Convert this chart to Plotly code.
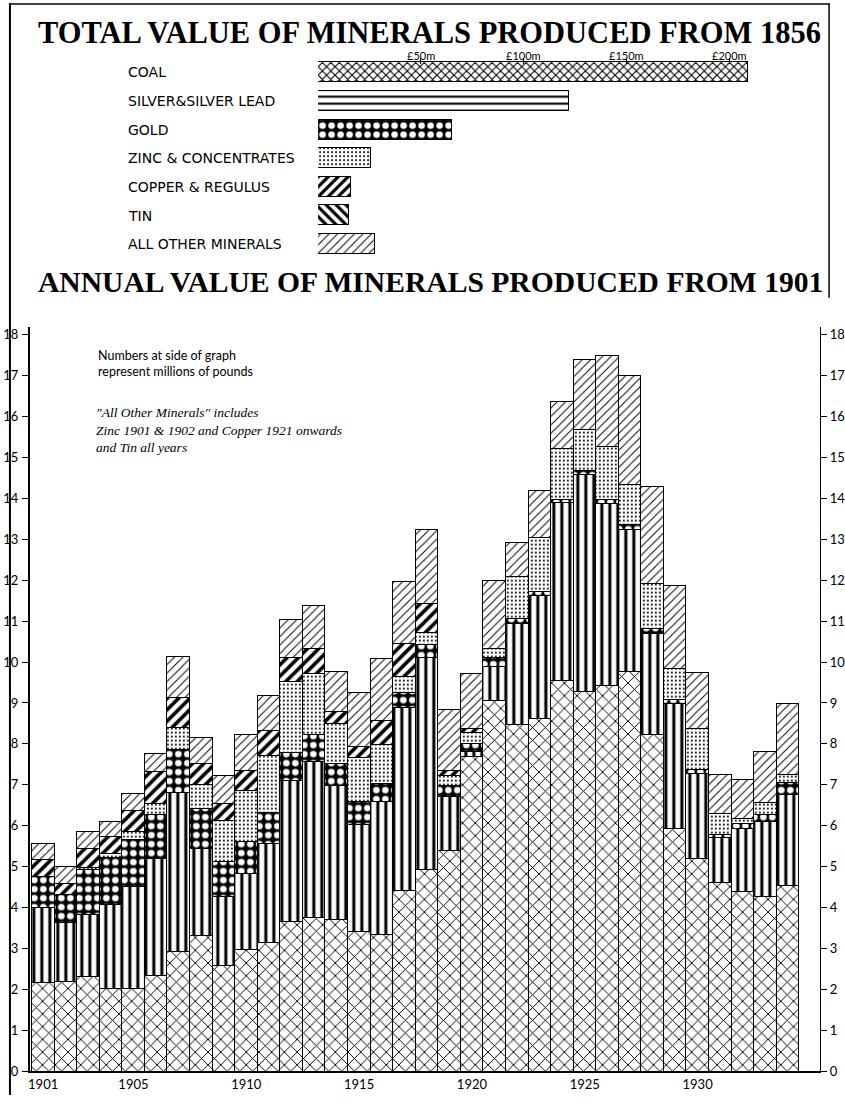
import plotly.graph_objects as go

W, H = 845, 1103

# ---------------- data ----------------
years = list(range(1901, 1935))
coal = [2.17, 2.20, 2.31, 2.01, 2.01, 2.33, 2.93, 3.32, 2.59, 2.98, 3.14, 3.65, 3.75, 3.71, 3.40, 3.35, 4.42,
        4.92, 5.38, 7.70, 9.05, 8.48, 8.61, 9.55, 9.27, 9.43, 9.77, 8.23, 5.94, 5.19, 4.60, 4.38, 4.26, 4.54]
silver = [1.84, 1.43, 1.52, 2.05, 2.49, 2.87, 3.89, 2.12, 1.67, 1.86, 2.43, 3.45, 3.82, 3.27, 2.63, 3.23, 4.46,
          5.18, 1.32, 0.10, 0.84, 2.47, 3.02, 4.35, 5.32, 4.45, 3.48, 2.47, 3.04, 2.09, 1.10, 1.56, 1.84, 2.21]
gold = [0.75, 0.69, 1.09, 1.16, 1.15, 1.08, 1.03, 0.97, 0.86, 0.77, 0.76, 0.69, 0.65, 0.53, 0.55, 0.46, 0.37,
        0.32, 0.28, 0.21, 0.21, 0.12, 0.10, 0.08, 0.08, 0.08, 0.10, 0.11, 0.10, 0.09, 0.08, 0.10, 0.16, 0.30]
zinc = [0.00, 0.00, 0.05, 0.10, 0.20, 0.26, 0.55, 0.59, 1.01, 1.25, 1.38, 1.74, 1.51, 0.99, 1.09, 0.94, 0.40,
        0.31, 0.24, 0.27, 0.24, 1.01, 1.32, 1.25, 1.01, 1.31, 0.99, 1.12, 0.77, 1.00, 0.52, 0.14, 0.30, 0.19]
copper = [0.40, 0.27, 0.47, 0.41, 0.52, 0.79, 0.73, 0.51, 0.42, 0.49, 0.61, 0.58, 0.61, 0.29, 0.26, 0.58, 0.81,
          0.70, 0.13, 0.10, 0, 0, 0, 0, 0, 0, 0, 0, 0, 0, 0, 0, 0, 0]
other = [0.41, 0.41, 0.41, 0.36, 0.41, 0.44, 1.01, 0.65, 0.67, 0.87, 0.87, 0.92, 1.05, 0.97, 1.32, 1.52, 1.51,
         1.82, 1.48, 1.34, 1.66, 0.83, 1.13, 1.14, 1.72, 2.21, 2.67, 2.37, 2.03, 1.38, 0.94, 0.95, 1.24, 1.74]

total_labels = ["COAL", "SILVER&SILVER LEAD", "GOLD", "ZINC & CONCENTRATES", "COPPER & REGULUS", "TIN",
                "ALL OTHER MINERALS"]
total_values = [209, 122, 65, 26, 16, 15, 27.5]

year_ticks = [1901, 1905, 1910, 1915, 1920, 1925, 1930]
value_ticks = list(range(0, 19))
total_ticks = [50, 100, 150, 200]
total_ticktext = ["£50m", "£100m", "£150m", "£200m"]

# ---------------- styles ----------------
styles = {
    "coal": dict(shape="x", size=9, solidity=0.2, fg="black", bg="white"),
    "silver": dict(shape="|", size=8, solidity=0.38, fg="black", bg="white"),
    "gold": dict(shape=".", size=9, solidity=0.42, fg="white", bg="black"),
    "zinc": dict(shape=".", size=4, solidity=0.22, fg="black", bg="white"),
    "copper": dict(shape="/", size=8, solidity=0.45, fg="black", bg="white"),
    "tin": dict(shape="\\", size=7, solidity=0.45, fg="black", bg="white"),
    "other": dict(shape="/", size=6, solidity=0.16, fg="black", bg="white"),
}


def pat(k, **over):
    s = dict(styles[k])
    s.update(over)
    return dict(shape=s["shape"], size=s["size"], solidity=s["solidity"],
                fgcolor=s["fg"], bgcolor=s["bg"], fillmode="replace")


fig = go.Figure()

series = [("coal", coal), ("silver", silver), ("gold", gold), ("zinc", zinc), ("copper", copper),
          ("other", other)]
for key, vals in series:
    fig.add_trace(go.Bar(
        x=years, y=vals, width=1, name=key, xaxis="x", yaxis="y",
        marker=dict(color=styles[key]["bg"], pattern=pat(key),
                    line=dict(color="black", width=1)),
        showlegend=False, hoverinfo="x+y"))

# invisible trace for right axis
fig.add_trace(go.Scatter(x=[years[0]], y=[0], xaxis="x", yaxis="y3", mode="markers",
                         marker=dict(opacity=0), showlegend=False, hoverinfo="skip"))

# top horizontal bars
top_keys = ["coal", "silver", "gold", "zinc", "copper", "tin", "other"]
top_pats = [pat("coal", size=6, solidity=0.34), pat("silver", shape="-", size=7, solidity=0.3),
            pat("gold", size=9, solidity=0.42), pat("zinc", size=4), pat("copper", size=7),
            pat("tin"), pat("other")]
for i, (k, v) in enumerate(zip(top_keys, total_values)):
    fig.add_trace(go.Bar(
        x=[v], y=[i], orientation="h", width=0.7, xaxis="x2", yaxis="y2",
        marker=dict(color=top_pats[i]["bgcolor"], pattern=top_pats[i],
                    line=dict(color="black", width=1.2)),
        showlegend=False, hoverinfo="x"))

px = lambda x: x / W
py = lambda y: (H - y) / H

tickfont = dict(family="Lato", size=13, color="black")
fig.update_layout(
    width=W, height=H, autosize=False,
    margin=dict(l=0, r=0, t=0, b=0),
    paper_bgcolor="white", plot_bgcolor="rgba(0,0,0,0)",
    barmode="stack", bargap=0,
    xaxis=dict(domain=[px(28), px(823)], range=[1900.41, 1935.43], tickvals=year_ticks,
               ticktext=[str(t) for t in year_ticks], ticks="", showgrid=False, zeroline=False,
               showline=True, linecolor="black", linewidth=1.5, tickfont=tickfont, anchor="y"),
    yaxis=dict(domain=[py(1079), py(329)], range=[0, 18.2], tickvals=value_ticks, ticks="outside",
               ticklen=6, tickcolor="black", showgrid=False, zeroline=False, showline=True,
               linecolor="black", linewidth=2, tickfont=tickfont, anchor="x", ticklabelstandoff=1),
    yaxis3=dict(overlaying="y", side="right", range=[0, 18.2], tickvals=value_ticks, ticks="outside",
                ticklen=6, tickcolor="black", showgrid=False, zeroline=False, showline=True,
                linecolor="black", linewidth=1, tickfont=tickfont, anchor="x"),
    xaxis2=dict(domain=[px(318), px(835)], range=[0, 250], tickvals=total_ticks,
                side="top", ticks="inside", ticklen=6, tickcolor="black", showgrid=False, zeroline=False,
                showline=False, showticklabels=False, anchor="y2"),
    yaxis2=dict(domain=[py(260.4), py(58.6)], range=[6.5, -0.5], visible=False, anchor="x2"),
)

annotations = [
    dict(text="<b>TOTAL VALUE OF MINERALS PRODUCED FROM 1856</b>", x=px(430), y=py(33), xref="paper",
         yref="paper", showarrow=False, font=dict(family="Liberation Serif", size=30.5, color="black"),
         xanchor="center", yanchor="middle"),
    dict(text="<b>ANNUAL VALUE OF MINERALS PRODUCED FROM 1901</b>", x=px(431), y=py(284), xref="paper",
         yref="paper", showarrow=False, font=dict(family="Liberation Serif", size=29.6, color="black"),
         xanchor="center", yanchor="middle"),
    dict(text="Numbers at side of graph<br>represent millions of pounds", x=px(95), y=py(366),
         xref="paper", yref="paper", showarrow=False, align="left", xanchor="left", yanchor="middle",
         font=dict(family="Lato", size=12.5, color="black")),
    dict(text="<i>\"All Other Minerals\" includes<br>Zinc 1901 &amp; 1902 and Copper 1921 onwards<br>"
              "and Tin all years</i>", x=px(93), y=py(433),
         xref="paper", yref="paper", showarrow=False, align="left", xanchor="left", yanchor="middle",
         font=dict(family="Liberation Serif", size=13.5, color="black")),
]
for t, lab in zip(total_ticks, total_ticktext):
    annotations.append(dict(text=lab, x=t, y=py(56), xref="x2", yref="paper", showarrow=False,
                            xanchor="center", yanchor="middle",
                            font=dict(family="Lato", size=11, color="black")))
for i, lab in enumerate(total_labels):
    annotations.append(dict(text=lab, x=px(125), y=i, xref="paper", yref="y2", showarrow=False,
                            xanchor="left", yanchor="middle",
                            font=dict(family="DejaVu Sans", size=14, color="black")))
fig.update_layout(annotations=annotations)

shapes = [
    dict(type="line", xref="paper", yref="paper", x0=px(8), x1=px(8), y0=0, y1=py(3),
         line=dict(color="black", width=2)),
    dict(type="line", xref="paper", yref="paper", x0=px(8), x1=px(833), y0=py(4), y1=py(4),
         line=dict(color="black", width=1.5)),
    dict(type="line", xref="paper", yref="paper", x0=px(832), x1=px(832), y0=py(4), y1=py(300),
         line=dict(color="black", width=1.5)),
]
fig.update_layout(shapes=shapes)

fig.write_html("out.html", config={"displayModeBar": False},
               post_script="document.body.style.margin='0px';")
